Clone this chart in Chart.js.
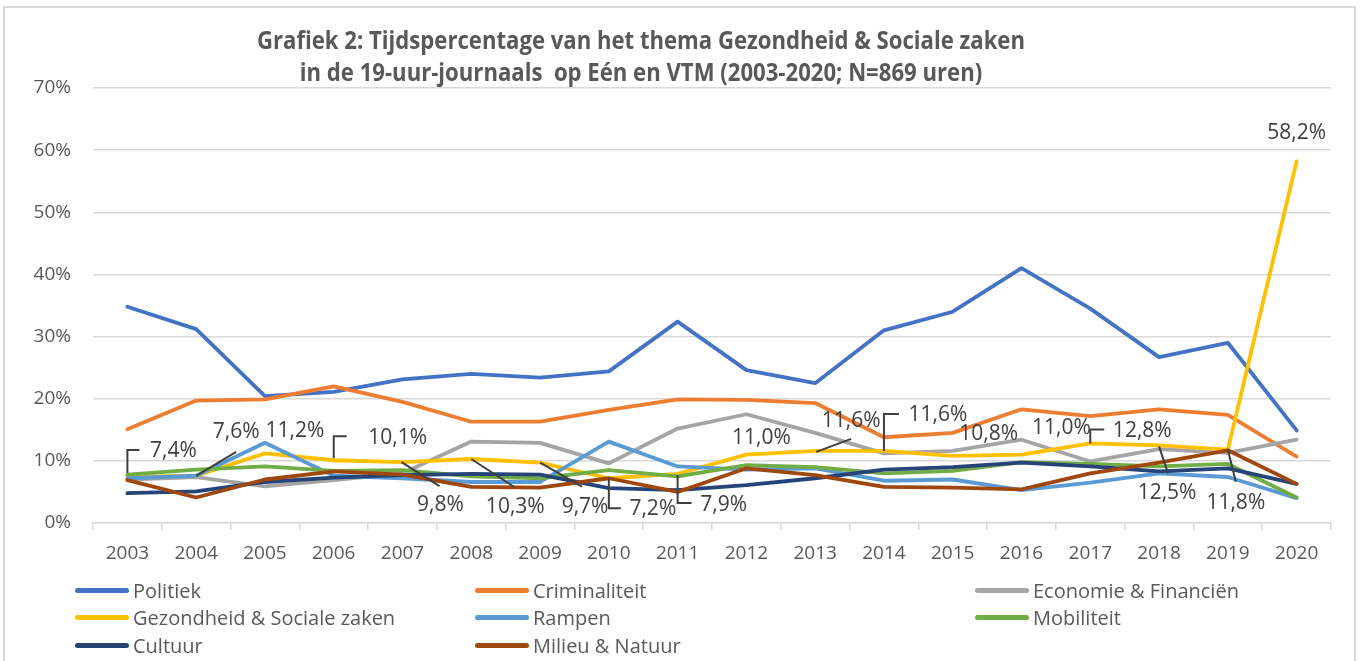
<!DOCTYPE html>
<html>
<head>
<meta charset="utf-8">
<script src="https://cdn.jsdelivr.net/npm/chart.js@4.4.1/dist/chart.umd.min.js"></script>
<style>
    body { margin: 0; background: #fff; }
    #wrap { position: relative; width: 1368px; height: 661px; overflow: hidden; }
    #frame { position: absolute; left: 3px; top: 6px; width: 1353px; height: 665px; border: 2px solid #d9d9d9; box-sizing: border-box; }
    #title { position: absolute; left: 0; top: 23px; width: 1282px; text-align: center; font: bold 25px 'Open Sans', sans-serif; color: #595959; line-height: 32px; transform: scaleX(0.885); transform-origin: 641px 0; }
    canvas { position: absolute; left: 0; top: 0; }
    .item { position: absolute; height: 28px; display: flex; align-items: center; font: 20px 'Open Sans', sans-serif; color: #595959; white-space: nowrap; }
    .item span { display: inline-block; width: 54px; height: 5px; border-radius: 3px; margin-right: 4px; }
</style>
</head>
<body>
<div id="wrap">
    <div id="frame"></div>
    <canvas id="chart" width="1368" height="661"></canvas>
    <div id="title">Grafiek 2: Tijdspercentage van het thema Gezondheid &amp; Sociale zaken<br>in de 19-uur-journaals&nbsp; op Eén en VTM (2003-2020; N=869 uren)</div>
    <div id="legend"></div>
</div>
<script>
// Jaren (categorieën)
const years = ['2003', '2004', '2005', '2006', '2007', '2008', '2009', '2010', '2011',
    '2012', '2013', '2014', '2015', '2016', '2017', '2018', '2019', '2020'];

// Tijdspercentages per thema
const politiek = [34.8, 31.2, 20.4, 21.1, 23.1, 24.0, 23.4, 24.4, 32.4, 24.6, 22.5, 31.0, 34.0, 41.0, 34.5, 26.7, 29.0, 14.9];
const criminaliteit = [15.1, 19.7, 19.9, 22.0, 19.5, 16.3, 16.3, 18.2, 19.9, 19.8, 19.3, 13.8, 14.5, 18.3, 17.2, 18.3, 17.4, 10.7];
const economie = [7.0, 7.4, 5.9, 6.9, 8.0, 13.1, 12.9, 9.6, 15.2, 17.5, 14.5, 11.2, 11.6, 13.4, 9.9, 11.9, 11.3, 13.4];
const gezondheid = [7.4, 7.6, 11.2, 10.1, 9.8, 10.3, 9.7, 7.2, 7.9, 11.0, 11.6, 11.6, 10.8, 11.0, 12.8, 12.5, 11.8, 58.2];
const rampen = [7.2, 7.6, 12.9, 7.6, 7.2, 6.6, 6.6, 13.1, 9.1, 8.6, 8.8, 6.8, 7.0, 5.3, 6.5, 8.0, 7.4, 4.0];
const mobiliteit = [7.8, 8.6, 9.1, 8.4, 8.5, 7.5, 7.2, 8.5, 7.5, 9.3, 9.0, 8.0, 8.4, 9.8, 9.5, 9.1, 9.5, 4.1];
const cultuur = [4.8, 5.1, 6.6, 7.3, 7.7, 7.9, 7.8, 5.6, 5.3, 6.1, 7.2, 8.6, 9.0, 9.7, 9.1, 8.3, 8.8, 6.3];
const milieu = [6.9, 4.1, 7.0, 8.3, 7.8, 5.8, 5.7, 7.2, 5.0, 8.8, 7.7, 5.8, 5.7, 5.4, 8.0, 9.7, 11.7, 6.3];

// Y-as ticks
const yTicks = [0, 10, 20, 30, 40, 50, 60, 70];

const series = [
    { label: 'Politiek', data: politiek, color: '#4472C4' },
    { label: 'Criminaliteit', data: criminaliteit, color: '#ED7D31' },
    { label: 'Economie & Financiën', data: economie, color: '#A5A5A5' },
    { label: 'Gezondheid & Sociale zaken', data: gezondheid, color: '#FFC000' },
    { label: 'Rampen', data: rampen, color: '#5B9BD5' },
    { label: 'Mobiliteit', data: mobiliteit, color: '#70AD47' },
    { label: 'Cultuur', data: cultuur, color: '#264478' },
    { label: 'Milieu & Natuur', data: milieu, color: '#9E480E' }
];

// Plaats van de labels bij Gezondheid (verschuiving t.o.v. het punt) en hun verbindingslijntjes
const labelPlacement = [
    { dx: 46, dy: -26, leader: [[0, -4], [0, -27], [12, -27]] },
    { dx: 40, dy: -44, leader: [[0, 0], [40, -24]] },
    { dx: 30, dy: -22, leader: null },
    { dx: 64, dy: -22, leader: [[0, -2], [0, -24], [13, -24]] },
    { dx: 38, dy: 43, leader: [[-1, 0], [37, 24]] },
    { dx: 44, dy: 48, leader: [[0, 0], [43, 28]] },
    { dx: 45, dy: 44, leader: [[0, 0], [42, 24]] },
    { dx: 44, dy: 31, leader: [[0, 0], [0, 30], [12, 30]] },
    { dx: 46, dy: 31, leader: [[0, 1], [0, 29], [14, 29]] },
    { dx: 15, dy: -17, leader: null },
    { dx: 36, dy: -30, leader: [[1, 1], [36, -12]] },
    { dx: 54, dy: -36, leader: [[0, 0], [0, -37], [15, -37]] },
    { dx: 36, dy: -22, leader: null },
    { dx: 40, dy: -27, leader: null },
    { dx: 52, dy: -12, leader: [[0, 0], [0, -14], [14, -14]] },
    { dx: 8, dy: 48, leader: [[0, 1], [9, 28]] },
    { dx: 8, dy: 53, leader: [[0, 0], [8, 32]] },
    { dx: 0, dy: -28, leader: null }
];

const fmt = (v) => v.toFixed(1).replace('.', ',') + '%';

// Plugin voor de datalabels van Gezondheid & Sociale zaken
const labelPlugin = {
    id: 'gezondheidLabels',
    afterDatasetsDraw(chart) {
        const meta = chart.getDatasetMeta(3);
        const c = chart.ctx;
        c.save();
        c.strokeStyle = '#404040';
        c.lineWidth = 2;
        c.fillStyle = '#404040';
        c.font = '21px "Open Sans", sans-serif';
        c.textAlign = 'center';
        c.textBaseline = 'middle';
        meta.data.forEach((pt, i) => {
            const p = labelPlacement[i];
            if (p.leader) {
                c.beginPath();
                p.leader.forEach(([lx, ly], k) => {
                    if (k === 0) c.moveTo(pt.x + lx, pt.y + ly);
                    else c.lineTo(pt.x + lx, pt.y + ly);
                });
                c.stroke();
            }
            c.fillText(fmt(gezondheid[i]), pt.x + p.dx, pt.y + p.dy);
        });
        c.restore();
    }
};

const tickFont = { family: 'Open Sans', size: 19 };

new Chart(document.getElementById('chart'), {
    type: 'line',
    data: {
        labels: years,
        datasets: series.map((s, i) => ({
            label: s.label,
            data: s.data,
            borderColor: s.color,
            backgroundColor: s.color,
            order: series.length - 1 - i
        }))
    },
    options: {
        responsive: false,
        animation: false,
        devicePixelRatio: 1,
        layout: { padding: { top: 88, right: 37, left: 0, bottom: 0 } },
        plugins: {
            legend: { display: false },
            title: { display: false },
            tooltip: { enabled: false }
        },
        elements: {
            point: { radius: 0 },
            line: { borderWidth: 3.8, tension: 0, borderCapStyle: 'round', borderJoinStyle: 'round' }
        },
        scales: {
            x: {
                offset: true,
                grid: { offset: true, drawOnChartArea: false, drawTicks: true, tickLength: 7, color: '#d9d9d9', lineWidth: 1.5 },
                border: { color: '#d9d9d9', width: 1.5 },
                ticks: { color: '#595959', font: tickFont, padding: 12, maxRotation: 0, autoSkip: false },
                afterFit: (s) => { s.height = 138; }
            },
            y: {
                min: yTicks[0],
                max: yTicks[yTicks.length - 1],
                afterBuildTicks: (s) => { s.ticks = yTicks.map(v => ({ value: v })); },
                ticks: { callback: (v) => v + '%', color: '#595959', font: tickFont, padding: 22 },
                grid: { color: '#d9d9d9', lineWidth: 1.5, drawTicks: false },
                border: { display: false },
                afterFit: (s) => { s.width = 93; }
            }
        }
    },
    plugins: [labelPlugin]
});

// Legende in drie kolommen, zoals in Excel
const legendCols = [75, 475, 975];
const legendRows = [590, 617, 645];
const legend = document.getElementById('legend');
series.forEach((s, i) => {
    const item = document.createElement('div');
    item.className = 'item';
    item.style.left = legendCols[i % 3] + 'px';
    item.style.top = (legendRows[Math.floor(i / 3)] - 14) + 'px';
    item.innerHTML = `<span style="background:${s.color}"></span>${s.label.replace('&', '&amp;')}`;
    legend.appendChild(item);
});
</script>
</body>
</html>
